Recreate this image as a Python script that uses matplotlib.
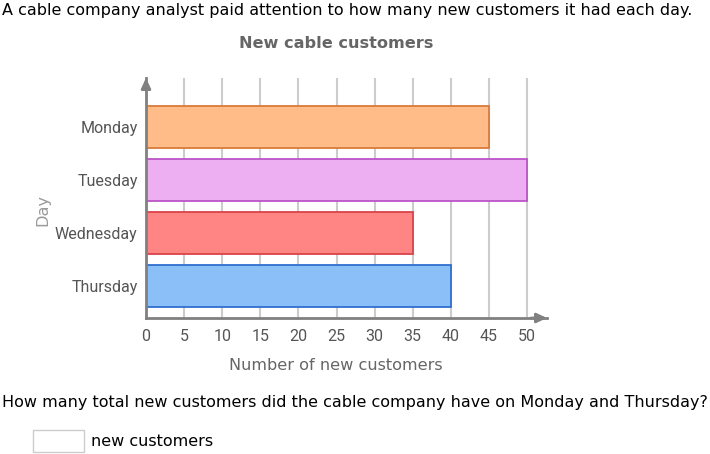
import matplotlib
matplotlib.use("Agg")
import matplotlib.pyplot as plt
from matplotlib.patches import Rectangle

days = ["Monday", "Tuesday", "Wednesday", "Thursday"]
values = [45, 50, 35, 40]
fills = ["#FFBB88", "#EDAEF2", "#FF8585", "#8ABFF7"]
edges = ["#D97B3A", "#BB55C8", "#D9434A", "#2F6FD0"]
xticks = [0, 5, 10, 15, 20, 25, 30, 35, 40, 45, 50]

W, H = 710, 454
fig = plt.figure(figsize=(W / 100, H / 100), dpi=100)

def fx(px):
    return px / W

def fy(py):
    return 1 - py / H

x0, x1 = 146, 547
y0, y1 = 78, 318
ax = fig.add_axes([fx(x0), fy(y1), (x1 - x0) / W, (y1 - y0) / H])

unit = (527 - 146) / 50.0
ax.set_xlim(0, (x1 - x0) / unit)
step = 53.0
ax.set_ylim(3 + (318 - 286) / step, -(127 - 78) / step)

ax.barh(range(len(days)), values, height=42 / step, color=fills,
        edgecolor=edges, linewidth=1.3, zorder=3)

ax.set_xticks(xticks)
ax.set_yticks(range(len(days)))
ax.set_yticklabels(days)
ax.grid(axis="x", color="#cccccc", linewidth=1.5, zorder=0)
ax.tick_params(axis="both", length=0, labelsize=11.5, labelcolor="#555555",
               pad=8)
for lab in ax.get_xticklabels() + ax.get_yticklabels():
    lab.set_fontfamily("Roboto")
ax.tick_params(axis="y", pad=6)

for s in ["top", "right"]:
    ax.spines[s].set_visible(False)
for s in ["left", "bottom"]:
    ax.spines[s].set_color("#808080")
    ax.spines[s].set_linewidth(2)
    ax.spines[s].set_zorder(4)

# arrows
ax.annotate("", xy=(1.0, 0), xytext=(0.96, 0), xycoords="axes fraction",
            arrowprops=dict(arrowstyle="-|>,head_length=0.6,head_width=0.28",
                            color="#808080", lw=2, shrinkA=0, shrinkB=0))
ax.annotate("", xy=(0, 1.0), xytext=(0, 0.95), xycoords="axes fraction",
            arrowprops=dict(arrowstyle="-|>,head_length=0.6,head_width=0.28",
                            color="#808080", lw=2, shrinkA=0, shrinkB=0))

fig.text(fx(2), fy(10), "A cable company analyst paid attention to how many new customers it had each day.",
         ha="left", va="center", fontsize=11.5, color="#000000",
         family="DejaVu Sans")
fig.text(fx(336), fy(44), "New cable customers", ha="center", va="center",
         fontsize=11.6, fontweight="bold", color="#666666", family="DejaVu Sans")
fig.text(fx(336), fy(366), "Number of new customers", ha="center", va="center",
         fontsize=11.6, color="#666666", family="DejaVu Sans")
fig.text(fx(43), fy(210), "Day", ha="center", va="center", rotation=90,
         fontsize=11.6, color="#999999", family="DejaVu Sans")
fig.text(fx(2), fy(403), "How many total new customers did the cable company have on Monday and Thursday?",
         ha="left", va="center", fontsize=11.5, color="#000000", family="DejaVu Sans")
fig.patches.append(Rectangle((fx(33), fy(452)), (84 - 33) / W, (452 - 430) / H,
                             transform=fig.transFigure, facecolor="white",
                             edgecolor="#cccccc", linewidth=1))
fig.text(fx(91), fy(441), "new customers", ha="left", va="center",
         fontsize=11.5, color="#000000", family="DejaVu Sans")

fig.savefig("out.png", dpi=100)
